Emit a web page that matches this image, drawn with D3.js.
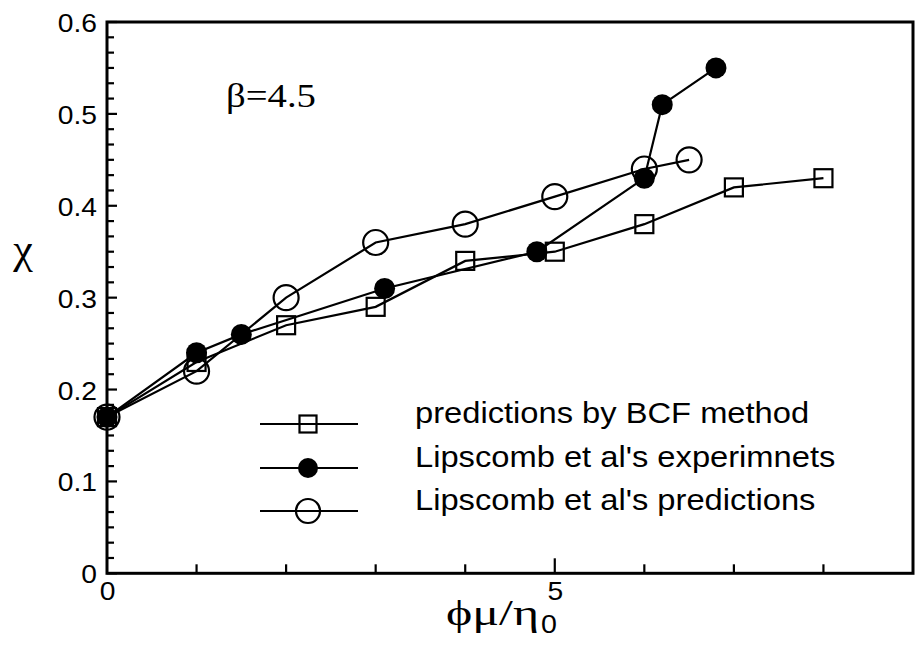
<!DOCTYPE html>
<html>
<head>
<meta charset="utf-8">
<script src="https://cdn.jsdelivr.net/npm/d3@7"></script>
<style>
  html, body { margin: 0; padding: 0; background: #fff; }
  svg { display: block; }
</style>
</head>
<body>
<svg id="chart" width="918" height="648"></svg>
<script>
// Dimensionless parameter on x, chi on y
const bcfX = [0, 1, 2, 3, 4, 5, 6, 7, 8];
const bcfY = [0.17, 0.23, 0.27, 0.29, 0.34, 0.35, 0.38, 0.42, 0.43];

const expX = [0, 1, 1.5, 3.1, 4.8, 6.0, 6.2, 6.8];
const expY = [0.17, 0.24, 0.26, 0.31, 0.35, 0.43, 0.51, 0.55];

const predX = [0, 1, 2, 3, 4, 5, 6, 6.5];
const predY = [0.17, 0.22, 0.30, 0.36, 0.38, 0.41, 0.44, 0.45];

const seriesNames = ["predictions by BCF method", "Lipscomb et al's experimnets", "Lipscomb et al's predictions"];
const xTickLabels = [0, 5];
const yTickLabels = [0, 0.1, 0.2, 0.3, 0.4, 0.5, 0.6];

const SANS = "Liberation Sans, Arial, Helvetica, sans-serif";
const SERIF = "Liberation Serif, Times New Roman, serif";

const svg = d3.select("#chart");
const W = 918, H = 648;
svg.append("rect").attr("width", W).attr("height", H).attr("fill", "#fff");

const x = d3.scaleLinear().domain([0, 9]).range([107, 913]);
const y = d3.scaleLinear().domain([0, 0.6]).range([573.3, 22]);

// Horizontally widened text helper
function label(x0, y0, str, opts) {
  const g = svg.append("g").attr("transform", `translate(${x0},${y0}) scale(${opts.sx || 1},1)`);
  const t = g.append("text")
    .attr("font-family", opts.family || SANS)
    .attr("font-size", opts.size)
    .attr("text-anchor", opts.anchor || "start")
    .attr("fill", "#000")
    .text(str);
  if (opts.len) t.attr("textLength", opts.len).attr("lengthAdjust", "spacingAndGlyphs");
  return t;
}

// Frame
svg.append("rect")
  .attr("x", x(0)).attr("y", y(0.6))
  .attr("width", x(9) - x(0)).attr("height", y(0) - y(0.6))
  .attr("fill", "none").attr("stroke", "#000").attr("stroke-width", 3);

// Y ticks: major every 0.1, minor every 0.1/6, pointing inward
const yMinor = d3.range(0, 37).map(i => i * 0.1 / 6);
svg.append("g").selectAll("line").data(yMinor).join("line")
  .attr("x1", x(0))
  .attr("x2", (d, i) => x(0) + (i % 6 === 0 ? 10 : 7))
  .attr("y1", d => y(d)).attr("y2", d => y(d))
  .attr("stroke", "#000").attr("stroke-width", 2.2);

// X ticks: each unit, longer at 5
const xTicks = d3.range(1, 9);
svg.append("g").selectAll("line").data(xTicks).join("line")
  .attr("x1", d => x(d)).attr("x2", d => x(d))
  .attr("y1", y(0))
  .attr("y2", d => y(0) - (d % 5 === 0 ? 15 : 9))
  .attr("stroke", "#000").attr("stroke-width", 2.2);

// Tick labels
yTickLabels.forEach(v => {
  label(97, y(v) + 10, v === 0 ? "0" : d3.format(".1f")(v), { size: 25, sx: 1.13, anchor: "end" });
});
xTickLabels.forEach(v => {
  label(x(v) + 0.5, 600, String(v), { size: 25, sx: 1.13, anchor: "middle" });
});

// Axis titles
label(23, 263, "χ", { family: SERIF, size: 42, sx: 1.05, anchor: "middle" });
label(446, 625, "ϕμ/η", { family: SERIF, size: 36, anchor: "start", len: 93 });
label(541, 633, "0", { size: 26, sx: 1.1, anchor: "start" });

// Annotation
label(226, 107, "β=4.5", { family: SERIF, size: 33, anchor: "start", len: 90 });

// Series
const line = d3.line().x(d => x(d[0])).y(d => y(d[1]));
const bcf = bcfX.map((v, i) => [v, bcfY[i]]);
const exp = expX.map((v, i) => [v, expY[i]]);
const pred = predX.map((v, i) => [v, predY[i]]);

[bcf, exp, pred].forEach(pts => {
  svg.append("path").datum(pts).attr("d", line)
    .attr("fill", "none").attr("stroke", "#000").attr("stroke-width", 2.2);
});

function drawSquares(g, pts, s) {
  g.selectAll("rect.sq").data(pts).join("rect").attr("class", "sq")
    .attr("x", d => d[0] - s / 2).attr("y", d => d[1] - s / 2)
    .attr("width", s).attr("height", s)
    .attr("fill", "none").attr("stroke", "#000").attr("stroke-width", 2.2);
}
function drawDots(g, pts, r) {
  g.selectAll("circle.dot").data(pts).join("circle").attr("class", "dot")
    .attr("cx", d => d[0]).attr("cy", d => d[1]).attr("r", r)
    .attr("fill", "#000");
}
function drawRings(g, pts, r) {
  g.selectAll("circle.ring").data(pts).join("circle").attr("class", "ring")
    .attr("cx", d => d[0]).attr("cy", d => d[1]).attr("r", r)
    .attr("fill", "none").attr("stroke", "#000").attr("stroke-width", 2.2);
}
const px = pts => pts.map(d => [x(d[0]), y(d[1])]);

drawSquares(svg.append("g"), px(bcf), 18);
drawDots(svg.append("g"), px(exp), 10.5);
drawRings(svg.append("g"), px(pred), 12.5);

// Legend
const legY = [424, 468, 511];
const leg = svg.append("g");
legY.forEach((ly, i) => {
  leg.append("line").attr("x1", 260).attr("x2", 358).attr("y1", ly).attr("y2", ly)
    .attr("stroke", "#000").attr("stroke-width", 2.2);
  label(415, ly - 1, seriesNames[i], { size: 30, sx: 1.09, anchor: "start" });
});
drawSquares(leg.append("g"), [[308, legY[0]]], 17);
drawDots(leg.append("g"), [[308, legY[1]]], 10);
drawRings(leg.append("g"), [[308, legY[2]]], 12);
</script>
</body>
</html>
